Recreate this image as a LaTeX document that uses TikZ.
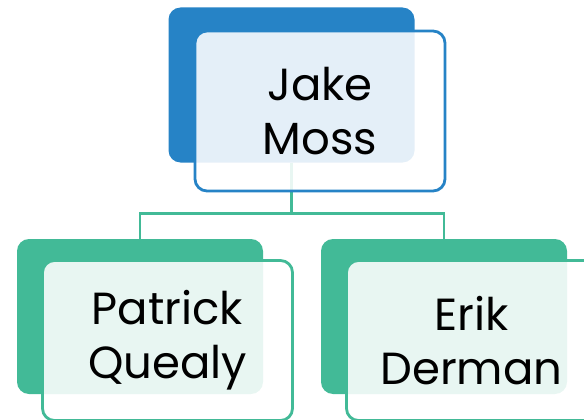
\documentclass[tikz,border=0pt]{standalone}
\usepackage{fontspec}
\setmainfont{Poppins}
\usetikzlibrary{calc, positioning}
\definecolor{ChartBlue}{RGB}{38, 131, 198}
\definecolor{ChartGreen}{RGB}{66, 186, 151}

\begin{document}
\begin{tikzpicture}[x=1pt, y=-1pt,
    back/.style={rounded corners=12pt, minimum width=246pt, minimum height=155pt, inner sep=0pt},
    front/.style={rounded corners=12pt, line width=2.8pt, fill=white, fill opacity=0.88, text opacity=1,
      minimum width=250pt, minimum height=160pt, inner sep=0pt, align=center,
      font=\fontsize{45}{54}\selectfont},
    link/.style={ChartGreen, line width=2.8pt}]
    \useasboundingbox (0,0) rectangle (584,420);
    \clip (0,0) rectangle (584,420);
    % back cards
    \node[back, fill=ChartBlue] (jake-back) at (291.5,85) {};
    \node[back, fill=ChartGreen] (patrick-back) at (140,316.5) {};
    \node[back, fill=ChartGreen] (erik-back) at (444,316.5) {};
    % connectors
    \draw[link] (jake-back.south) -- ++(0,51) coordinate (split);
    \draw[link] (split) -| ([yshift=-4pt]patrick-back.north);
    \draw[link] (split) -| ([yshift=-4pt]erik-back.north);
    % front cards
    \node[front, draw=ChartBlue] (jake) at ([shift={(28.5,26)}]jake-back.center) {Jake\\Moss};
    \node[front, draw=ChartGreen] (patrick) at ([shift={(27.5,24)}]patrick-back.center) {Patrick\\Quealy};
    \node[front, draw=ChartGreen] (erik) at ([shift={(27.5,24)}]erik-back.center) {Erik\\Derman};
\end{tikzpicture}
\end{document}
